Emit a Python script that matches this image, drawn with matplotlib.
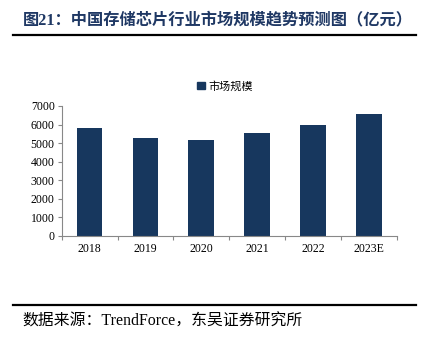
import matplotlib
matplotlib.use("Agg")
import matplotlib.pyplot as plt
from matplotlib.lines import Line2D
from matplotlib.patches import Patch

categories = ["2018", "2019", "2020", "2021", "2022", "2023E"]
values = [5840, 5280, 5190, 5570, 6000, 6550]
yticks = [0, 1000, 2000, 3000, 4000, 5000, 6000, 7000]
series_name = "市场规模"
title = "图21：中国存储芯片行业市场规模趋势预测图（亿元）"
source = "数据来源：TrendForce，东吴证券研究所"

BAR = "#17375E"
TITLE_C = "#1F3864"
MIX = ["Liberation Serif", "Noto Sans CJK SC"]

fig = plt.figure(figsize=(4.24, 3.40), dpi=100)
ax = fig.add_axes([0.1455, 0.3059, 0.790, 0.3824])

x = list(range(len(categories)))
ax.bar(x, values, width=0.46, color=BAR, zorder=2)
ax.set_xlim(-0.5, len(categories) - 0.5)
ax.set_ylim(0, 7000)
ax.set_yticks(yticks)
ax.set_yticklabels([str(v) for v in yticks], family=MIX, fontsize=8.5)
ax.set_xticks(x)
ax.set_xticklabels(categories, family=MIX, fontsize=8.5)
ax.tick_params(axis="x", length=0, pad=5)
ax.tick_params(axis="y", length=3, color="#888888", width=0.8, pad=2)
# boundary ticks on x axis
ax.set_xticks([i - 0.5 for i in range(len(categories) + 1)], minor=True)
ax.tick_params(axis="x", which="minor", length=3, color="#888888", width=0.8)
for s in ["top", "right"]:
    ax.spines[s].set_visible(False)
for s in ["left", "bottom"]:
    ax.spines[s].set_color("#888888")
    ax.spines[s].set_linewidth(0.8)

leg = fig.legend(handles=[Patch(color=BAR, label=series_name)],
                 loc="center", bbox_to_anchor=(0.53, 1 - 86 / 340), frameon=False,
                 prop={"family": "Noto Sans CJK SC", "size": 8},
                 handlelength=0.7, handleheight=0.7, handletextpad=0.3)

fig.text(23 / 424, 1 - 20 / 340, title, family=MIX, fontweight="bold",
         fontsize=11.7, color=TITLE_C, va="center", ha="left")
fig.add_artist(Line2D([13 / 424, 416 / 424], [1 - 35 / 340] * 2, color="black", lw=1.6))
fig.add_artist(Line2D([13 / 424, 416 / 424], [1 - 305 / 340] * 2, color="black", lw=1.6))
fig.text(22 / 424, 1 - 322 / 340, source, family=MIX, fontsize=11.4,
         color="black", va="center", ha="left")

fig.savefig("out.png", dpi=100)
